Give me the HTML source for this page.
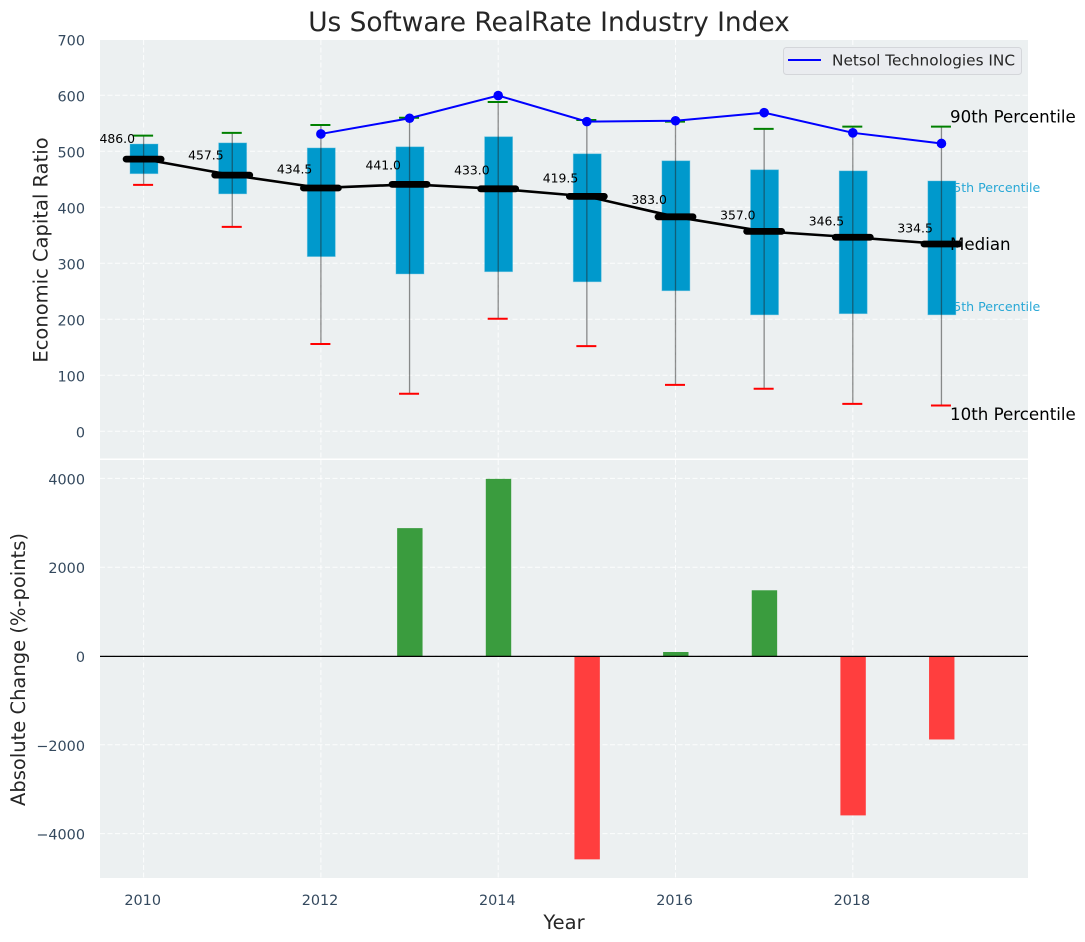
<!DOCTYPE html>
<html lang="en">
<head>
<meta charset="utf-8">
<title>Us Software RealRate Industry Index</title>
<style>
html,body{margin:0;padding:0;background:#fff;}
svg{display:block;font-family:"DejaVu Sans","Liberation Sans",sans-serif;}
</style>
</head>
<body>
<svg id="chart" xmlns="http://www.w3.org/2000/svg" width="1085" height="942" viewBox="0 0 1085 942">
  <rect x="0" y="0" width="1085" height="942" fill="#ffffff"/>
  <rect x="100" y="40" width="928" height="418.5" fill="#ecf0f1"/>
  <rect x="100" y="460" width="928" height="418" fill="#ecf0f1"/>
  <g id="grid"></g>
  <g id="ticks"></g>
  <text x="549" y="31" text-anchor="middle" font-size="26.4" fill="#262626">Us Software RealRate Industry Index</text>
  <text transform="translate(47.5,250) rotate(-90)" text-anchor="middle" font-size="19.5" fill="#262626">Economic Capital Ratio</text>
  <text transform="translate(25,669.5) rotate(-90)" text-anchor="middle" font-size="19.5" fill="#262626">Absolute Change (%-points)</text>
  <text x="564" y="929" text-anchor="middle" font-size="19.5" fill="#262626">Year</text>
  <text x="945.2" y="192" font-size="12.6" fill="#29a8d6">75th Percentile</text>
  <text x="945.2" y="311" font-size="12.6" fill="#29a8d6">25th Percentile</text>
  <g id="whiskers"></g>
  <g id="boxes"></g>
  <g id="medians"></g>
  <g id="netsol"></g>
  <g id="bars"></g>
  <text x="950" y="250" font-size="16.67" fill="#000000">Median</text>
  <text x="950" y="122.5" font-size="16.67" fill="#000000">90th Percentile</text>
  <text x="950" y="420" font-size="16.67" fill="#000000">10th Percentile</text>
  <g>
    <rect x="783.5" y="47.5" width="238" height="27" rx="3" fill="#eaecf0" stroke="#d4d6da" stroke-width="1"/>
    <line x1="788" x2="821" y1="60" y2="60" stroke="#0000ff" stroke-width="2"/>
    <text x="832" y="65.5" font-size="15.3" fill="#262626">Netsol Technologies INC</text>
  </g>
</svg>
<script>
const years = [2010, 2011, 2012, 2013, 2014, 2015, 2016, 2017, 2018, 2019];
const p10 = [440, 365, 156, 67, 201, 152, 83, 76, 49, 46];
const p25 = [460, 424, 312, 281, 285, 267, 251, 208, 210, 208];
const medians = [486.0, 457.5, 434.5, 441.0, 433.0, 419.5, 383.0, 357.0, 346.5, 334.5];
const p75 = [513, 515, 506, 508, 526, 495.5, 483, 467, 465, 447];
const p90 = [528, 533, 547, 560, 588, 556, 553, 540, 544, 544];
const netsolYears = [2012, 2013, 2014, 2015, 2016, 2017, 2018, 2019];
const netsolValues = [531, 559, 599.5, 553, 554.5, 569, 533, 514];
const changeYears = [2013, 2014, 2015, 2016, 2017, 2018, 2019];
const changeValues = [2880, 3990, -4580, 90, 1480, -3590, -1880];
const xTickValues = [2010, 2012, 2014, 2016, 2018];
const topTickValues = [0, 100, 200, 300, 400, 500, 600, 700];
const bottomTickValues = [-4000, -2000, 0, 2000, 4000];

const NS = 'http://www.w3.org/2000/svg';
const xScale = v => 143.6 + (v - 2010) * 88.65;
const yTop = v => 431.3 - v * 0.56;
const yBottom = v => 656 - v * 0.0444;

function make(tag, parent, attrs, text) {
  const el = document.createElementNS(NS, tag);
  for (const k in attrs) el.setAttribute(k, attrs[k]);
  if (text !== undefined) el.textContent = text;
  parent.appendChild(el);
  return el;
}

const gridG = document.getElementById('grid');
const ticksG = document.getElementById('ticks');
const gridStyle = {stroke: '#ffffff', 'stroke-width': 1, 'stroke-dasharray': '5 2.5', 'stroke-opacity': 0.85, fill: 'none'};

xTickValues.forEach(v => {
  const x = xScale(v);
  const g1 = make('line', gridG, Object.assign({x1: x, x2: x, y1: 40, y2: 458.5}, gridStyle));
  
  
  const g2 = make('line', gridG, Object.assign({x1: x, x2: x, y1: 460, y2: 878}, gridStyle));
  
  
  const t = make('text', ticksG, {x: x - 0.9, y: 905, 'text-anchor': 'middle', 'font-size': 14.4, fill: '#34495e'}, String(v));
  
  
});

topTickValues.forEach(v => {
  const y = yTop(v);
  const g = make('line', gridG, Object.assign({x1: 100, x2: 1028, y1: y, y2: y}, gridStyle));
  
  
  const t = make('text', ticksG, {x: 85, y: y + 6, 'text-anchor': 'end', 'font-size': 14.4, fill: '#34495e'}, String(v));
  
  
});

bottomTickValues.forEach(v => {
  const y = yBottom(v);
  const g = make('line', gridG, Object.assign({x1: 100, x2: 1028, y1: y, y2: y}, gridStyle));
  
  
  const label = v < 0 ? '\u2212' + Math.abs(v) : String(v);
  const t = make('text', ticksG, {x: 85, y: y + 6, 'text-anchor': 'end', 'font-size': 14.4, fill: '#34495e'}, label);
  
  
});

const whiskersG = document.getElementById('whiskers');
const boxesG = document.getElementById('boxes');
const boxHalf = 14;
const capHalf = 10;

years.forEach((yr, i) => {
  const x = xScale(yr) + 0.4;
  const box = make('rect', boxesG, {
    x: x - boxHalf, y: yTop(p75[i]), width: boxHalf * 2,
    height: yTop(p25[i]) - yTop(p75[i]),
    fill: '#0099cc', stroke: '#5fbfe0', 'stroke-opacity': 0.5, 'stroke-width': 0.8
  });
  
  
});

const whiskerTop = document.createElementNS(NS, 'g');



years.forEach((yr, i) => {
  const x = xScale(yr);
  const w = make('line', whiskerTop, {
    x1: x, x2: x, y1: yTop(p10[i]), y2: yTop(p90[i]),
    stroke: '#222222', 'stroke-opacity': 0.5, 'stroke-width': 1.3
  });
  
  
  const hi = make('line', whiskerTop, {
    x1: x - 0.5 - capHalf, x2: x - 0.5 + capHalf, y1: yTop(p90[i]), y2: yTop(p90[i]),
    stroke: '#008000', 'stroke-width': 2
  });
  
  
  const lo = make('line', whiskerTop, {
    x1: x - 0.5 - capHalf, x2: x - 0.5 + capHalf, y1: yTop(p10[i]), y2: yTop(p10[i]),
    stroke: '#ff0000', 'stroke-width': 2
  });
  
  
});
boxesG.parentNode.insertBefore(whiskerTop, boxesG.nextSibling);

const mediansG = document.getElementById('medians');
const medianPath = make('polyline', mediansG, {
  points: years.map((yr, i) => xScale(yr) + ',' + yTop(medians[i])).join(' '),
  fill: 'none', stroke: '#000000', 'stroke-width': 2.6, 'stroke-linejoin': 'round'
});



years.forEach((yr, i) => {
  const x = xScale(yr);
  const y = yTop(medians[i]);
  const seg = make('line', mediansG, {
    x1: x - 17.5, x2: x + 17.5, y1: y, y2: y,
    stroke: '#000000', 'stroke-width': 6.8, 'stroke-linecap': 'round'
  });
  
  
  const t = make('text', mediansG, {
    x: x - 8.6, y: yTop(medians[i] * 1.06), 'text-anchor': 'end', 'font-size': 12.4, fill: '#000000'
  }, medians[i].toFixed(1));
  
  
});

const netsolG = document.getElementById('netsol');
const netsolLine = make('polyline', netsolG, {
  points: netsolYears.map((yr, i) => xScale(yr) + ',' + yTop(netsolValues[i])).join(' '),
  fill: 'none', stroke: '#0000ff', 'stroke-width': 2
});



netsolYears.forEach((yr, i) => {
  const c = make('circle', netsolG, {cx: xScale(yr), cy: yTop(netsolValues[i]), r: 4.8, fill: '#0000ff'});
  
  
});

const barsG = document.getElementById('bars');
changeYears.forEach((yr, i) => {
  const v = changeValues[i];
  const y0 = yBottom(0);
  const y1 = yBottom(v);
  const b = make('rect', barsG, {
    x: xScale(yr) + 0.3 - 12.7, y: Math.min(y0, y1), width: 25.4, height: Math.abs(y1 - y0),
    fill: v >= 0 ? '#3a9c3e' : '#ff3e3e'
  });
  
  
});
const zero = make('line', barsG, {x1: 100, x2: 1028, y1: yBottom(0) + 0.4, y2: yBottom(0) + 0.4, stroke: '#000000', 'stroke-width': 1.3});


</script>
</body>
</html>
